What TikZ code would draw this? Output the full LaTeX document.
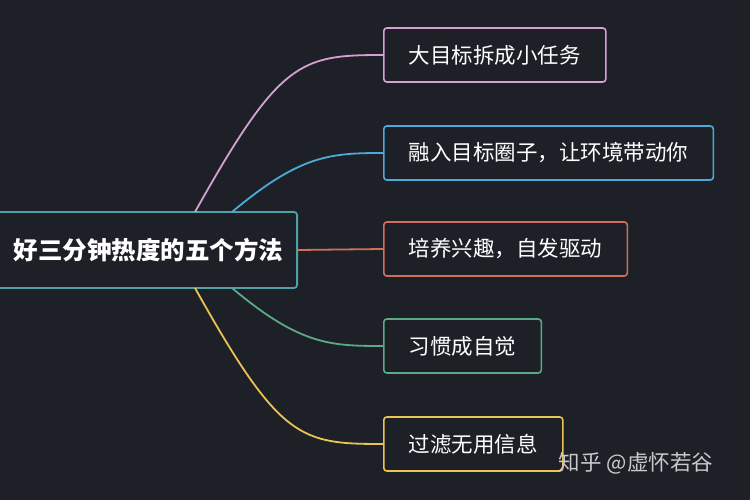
\documentclass[tikz,border=0pt]{standalone}
\usepackage{fontspec}
\setmainfont{Noto Sans CJK SC}
\begin{document}
\begin{tikzpicture}[x=1pt,y=-1pt,
  box/.style={draw=#1,line width=1.6pt,rounded corners=3pt,anchor=west,minimum height=54pt,inner xsep=25pt,text=white,font=\fontsize{21.5}{25}\selectfont},
  link/.style={draw=#1,line width=1.8pt}]
\fill[fill={rgb,255:red,30;green,32;blue,39}] (0,0) rectangle (750,500);
\useasboundingbox (0,0) rectangle (750,500);
\begin{scope}
\clip (0,0) rectangle (750,500);
\node[draw={rgb,255:red,80;green,160;blue,170},line width=1.8pt,rounded corners=3pt,minimum width=318pt,minimum height=76pt,anchor=east,text=white,font=\bfseries\fontsize{24.5}{28}\selectfont,text width=290pt,align=right] (c) at (298,250) {好三分钟热度的五个方法};
\end{scope}
\definecolor{cpink}{RGB}{215,160,210}
\definecolor{cblue}{RGB}{75,170,215}
\definecolor{cred}{RGB}{210,110,90}
\definecolor{cgreen}{RGB}{90,170,135}
\definecolor{cyel}{RGB}{235,195,80}
\node[box=cpink] (b1) at (383,55) {大目标拆成小任务};
\node[box=cblue] (b2) at (383,153) {融入目标圈子，让环境带动你};
\node[box=cred] (b3) at (383,249) {培养兴趣，自发驱动};
\node[box=cgreen] (b4) at (383,346) {习惯成自觉};
\node[box=cyel] (b5) at (383,444) {过滤无用信息};
\coordinate (s1) at (195,212);
\coordinate (s2) at (232,212);
\coordinate (s4) at (232,288);
\coordinate (s5) at (195,288);
\draw[link=cpink] (s1) .. controls (280,60) and (300,55) .. (b1.west);
\draw[link=cblue] (s2) .. controls (300,155) and (330,153) .. (b2.west);
\draw[link=cred] (c.east) -- (b3.west);
\draw[link=cgreen] (s4) .. controls (300,345) and (330,346) .. (b4.west);
\draw[link=cyel] (s5) .. controls (280,440) and (300,444) .. (b5.west);
\node[text={rgb,255:red,200;green,200;blue,205},font=\fontsize{21.5}{25}\selectfont] (w) at (636,463) {知乎 @虚怀若谷};
\end{tikzpicture}
\end{document}
